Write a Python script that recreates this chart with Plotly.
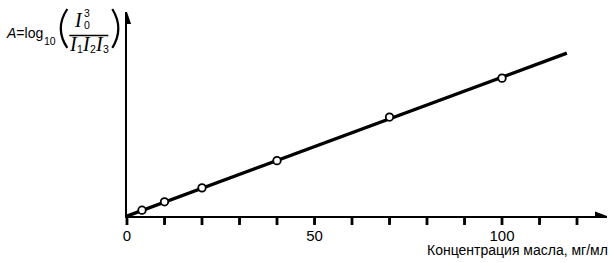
import plotly.graph_objects as go

# Data
conc = [4, 10, 20, 40, 70, 100]           # mg/ml
absorb = [0.058, 0.142, 0.282, 0.555, 0.992, 1.382]
fit_x = [0, 117.3]
fit_y = [0, 1.632]
tick_vals = [0, 10, 20, 30, 40, 50, 60, 70, 80, 90, 100, 110, 120]
tick_text = ["0", "", "", "", "", "50", "", "", "", "", "100", "", ""]
x_title = "Концентрация масла, мг/мл"

W, H = 614, 263
L, R, T, B = 126.7, 7.3, 12, 46.5
PW, PH = W - L - R, H - T - B
XMAX, YMAX = 128, PH / 100.0

def px(x):
    return (x - L) / PW

def py(y):
    return (H - B - y) / PH

fig = go.Figure()
fig.add_trace(go.Scatter(x=fit_x, y=fit_y, mode="lines",
                         line=dict(color="black", width=3.5), hoverinfo="skip"))
fig.add_trace(go.Scatter(x=conc, y=absorb, mode="markers",
                         marker=dict(size=7.5, color="white", line=dict(color="black", width=1.8))))

serif = "Liberation Serif"
sans = "Liberation Sans"
ann = []
def A(x, y, text, size, family=sans, xanchor="center", yanchor="middle", xshift=0):
    ann.append(dict(x=px(x), y=py(y), xref="paper", yref="paper", text=text, showarrow=False,
                    font=dict(family=family, size=size, color="black"),
                    xanchor=xanchor, yanchor=yanchor, xshift=xshift, borderpad=0))

A(5, 33, "<i>A</i>=log", 14, xanchor="left")
A(49.5, 41, "10", 10.5)
A(78, 20, "<i>I</i>", 20, family=serif)
A(87, 13.5, "3", 10.5)
A(87, 25.5, "0", 10.5)
for xi, xs, s in [(73.5, 80, "1"), (86.5, 93, "2"), (99.5, 106, "3")]:
    A(xi, 44, "<i>I</i>", 20, family=serif)
    A(xs, 49, s, 10.5)
A(607, 251, x_title, 14, xanchor="right", xshift=2)

shapes = [
    dict(type="line", xref="paper", yref="paper", x0=px(69), x1=px(108), y0=py(35.5), y1=py(35.5),
         line=dict(color="black", width=1.4)),
    dict(type="path", xref="paper", yref="paper",
         path=f"M {px(67)} {py(9)} Q {px(54)} {py(28.5)} {px(67)} {py(48)}",
         line=dict(color="black", width=2.2)),
    dict(type="path", xref="paper", yref="paper",
         path=f"M {px(112)} {py(9)} Q {px(124)} {py(28.5)} {px(112)} {py(48)}",
         line=dict(color="black", width=2.2)),
    dict(type="path", xref="x", yref="y",
         path=f"M {XMAX} 0 L {XMAX-3.2} 0.045 L {XMAX-3.2} -0.045 Z",
         fillcolor="black", line=dict(color="black", width=0)),
    dict(type="path", xref="x", yref="y",
         path=f"M 0 {YMAX} L 1.1 {YMAX-0.12} L -1.1 {YMAX-0.12} Z",
         fillcolor="black", line=dict(color="black", width=0)),
]
for tv in tick_vals:
    shapes.append(dict(type="rect", xref="paper", yref="paper", layer="above",
                       x0=tv / XMAX - 1.4 / PW, x1=tv / XMAX + 1.4 / PW,
                       y0=-9 / PH, y1=0, fillcolor="black", line=dict(width=0)))

fig.update_layout(
    width=W, height=H, margin=dict(l=L, r=R, t=T, b=B),
    paper_bgcolor="white", plot_bgcolor="white", showlegend=False,
    annotations=ann, shapes=shapes,
    xaxis=dict(range=[0, XMAX], showgrid=False, zeroline=False, showline=True,
               linecolor="black", linewidth=2, ticks="outside", ticklen=5, tickwidth=2,
               tickcolor="black", tickvals=tick_vals, ticktext=tick_text,
               tickfont=dict(family=sans, size=15, color="black")),
    yaxis=dict(range=[0, YMAX], showgrid=False, zeroline=False, showline=True,
               linecolor="black", linewidth=2, showticklabels=False, ticks=""),
)
fig.write_html("out.html")
